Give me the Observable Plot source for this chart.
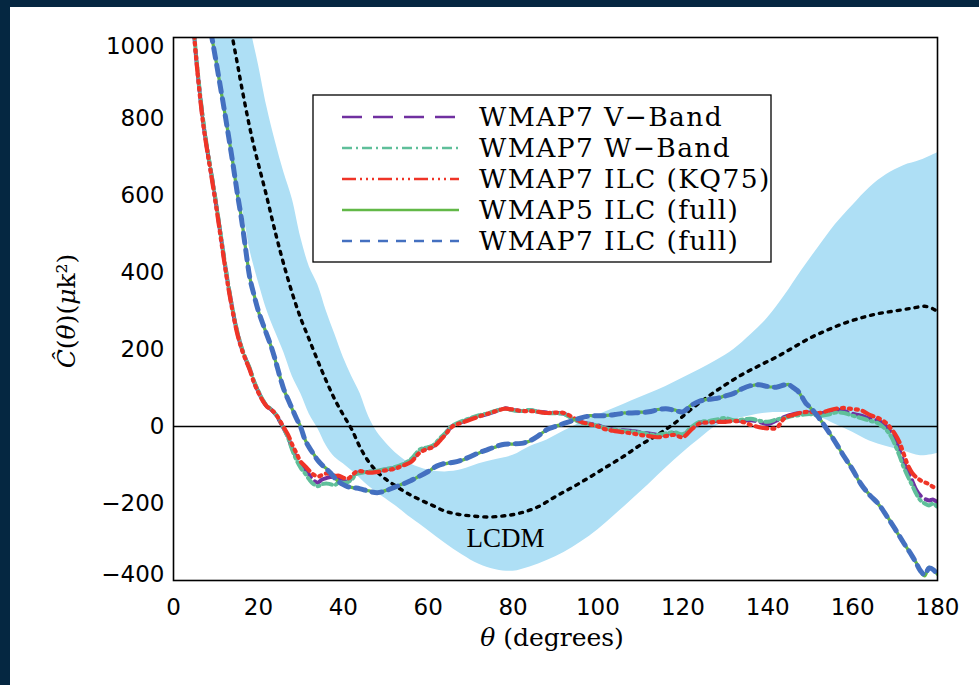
<!DOCTYPE html>
<html><head><meta charset="utf-8">
<script src="https://cdn.jsdelivr.net/npm/d3@7"></script>
<script src="https://cdn.jsdelivr.net/npm/@observablehq/plot@0.6"></script>
<style>
html,body{margin:0;padding:0;background:#fff;}
#wrap{position:relative;width:979px;height:685px;overflow:hidden;background:#fff;}
#chart{position:absolute;left:0;top:0;}
#over{position:absolute;left:0;top:0;overflow:visible;}
#barTop{position:absolute;left:0;top:0;width:979px;height:7px;background:#052741;}
#barLeft{position:absolute;left:0;top:0;width:10px;height:685px;background:#052741;}
</style></head>
<body>
<div id="wrap"><div id="chart"></div><svg id="over" width="979" height="685"></svg><div id="barTop"></div><div id="barLeft"></div></div>
<script>
// ---------- data ----------
const xTicks = [0,20,40,60,80,100,120,140,160,180];
const yTicksMid = [-200,0,200,400,600,800];
const yTickTop = [1000];
const yTickBottom = [-400];
const seriesNames = ["WMAP7 V\u2212Band","WMAP7 W\u2212Band","WMAP7 ILC (KQ75)","WMAP5 ILC (full)","WMAP7 ILC (full)"];
const bandLabel = ["LCDM"];
const bandLabelTheta = [78.2];
const bandLabelValue = [-290];

// cut-sky estimators (V, W, ILC KQ75)
const cutTheta = [4.8,5,6,7,8,9,10,11,12,13,
 14,15,16,17,18,19,20,21,22,23,
 24,25,26,27,28,29,30,31,32,33,
 34,35,36,37,38,39,40,41,42,43,
 44,46,48,50,52,54,56,57,58,59,
 60,61,62,63,64,65,66,68,70,72,
 74,76,78,80,82,84,86,88,90,92,
 94,96,98,100,102,104,106,108,110,112,
 114,116,118,120,122,124,126,128,130,132,
 134,136,138,140,142,144,146,148,150,152,
 154,156,158,160,162,164,166,168,169,170,
 171,172,173,174,175,176,177,178,179,180];
const vBand = [1040,1000,885,790,715,650,580,505,430,360,
 298,245,205,175,148,115,90,68,52,44,
 32,14,-6,-28,-58,-82,-100,-112,-126,-140,
 -146,-138,-134,-131,-136,-134,-140,-143,-134,-121,
 -119,-118,-116,-112,-108,-100,-88,-76,-63,-58,
 -55,-52,-45,-31,-20,-6,3,12,20,27,
 32,40,47,43,40,42,38,36,35,33,
 22,12,7,3,-5,-8,-10,-12,-15,-18,
 -22,-20,-17,-22,-5,10,12,15,14,15,
 15,16,12,6,15,25,32,35,36,33,
 38,44,40,33,28,20,15,0,-15,-35,
 -60,-92,-115,-140,-165,-180,-188,-192,-190,-198];
const wBand = [1045,1005,890,795,718,652,583,508,433,362,
 300,248,207,176,150,117,92,70,53,45,
 33,15,-5,-30,-62,-88,-108,-122,-138,-150,
 -155,-150,-148,-150,-152,-145,-146,-145,-138,-124,
 -121,-117,-115,-110,-106,-98,-84,-72,-60,-56,
 -54,-50,-40,-28,-18,-4,4,14,22,29,
 34,41,46,42,40,43,38,35,34,32,
 20,10,6,2,-6,-8,-12,-13,-16,-20,
 -22,-18,-15,-20,-2,12,14,18,22,16,
 18,20,15,12,18,22,27,30,32,28,
 30,36,35,28,22,15,8,-10,-25,-48,
 -75,-105,-130,-152,-175,-192,-200,-205,-200,-210];
const ilcKQ75 = [1040,1000,882,785,712,645,575,500,425,355,
 295,242,203,173,146,113,88,67,52,44,
 33,16,-3,-22,-48,-70,-92,-103,-115,-125,
 -130,-126,-122,-124,-128,-128,-133,-136,-128,-118,
 -116,-120,-118,-114,-110,-102,-92,-80,-68,-62,
 -58,-54,-46,-34,-22,-8,2,10,18,26,
 33,40,46,44,40,40,38,35,36,35,
 24,12,6,0,-8,-12,-15,-18,-22,-25,
 -28,-25,-22,-28,-8,8,10,12,12,14,
 12,4,-2,-5,-4,22,30,36,38,35,
 40,46,48,45,42,30,22,8,-5,-20,
 -40,-70,-100,-120,-132,-140,-145,-150,-157,-160];

// full-sky ILC maps
const fullTheta = [8.8,9.2,10,11,12,13,14,15,16,17,
 18,19,20,21,22,23,24,25,26,27,
 28,29,30,31,32,33,34,35,36,37,
 38,39,40,41,42,43,44,45,46,48,
 50,52,54,56,58,60,62,64,66,68,
 70,72,74,76,78,80,82,84,86,88,
 90,92,94,96,98,100,102,104,106,108,
 110,112,114,116,118,120,122,124,126,128,
 130,132,134,136,138,140,142,144,145,146,
 147,148,149,150,152,154,156,158,160,162,
 164,166,168,170,172,174,175,176,177,178,
 179,180];
const ilc7Full = [1025,1000,950,885,820,752,682,608,540,460,
 385,340,300,268,238,208,172,132,96,70,
 45,20,-3,-35,-55,-72,-88,-100,-110,-121,
 -134,-144,-151,-156,-159,-160,-162,-165,-168,-172,
 -167,-158,-150,-140,-129,-117,-103,-96,-93,-87,
 -78,-68,-60,-52,-46,-45,-44,-37,-24,-8,
 0,8,15,22,27,28,28,31,34,35,
 36,38,43,46,42,38,55,66,70,73,
 79,86,98,106,108,104,102,108,108,101,
 93,78,60,50,23,-8,-42,-78,-112,-150,
 -178,-200,-232,-266,-302,-336,-355,-375,-385,-368,
 -372,-385];
const ilc5Full = [1026,1000,951,884,819,753,683,607,541,461,
 386,341,299,267,239,207,171,133,95,71,
 44,21,-2,-34,-56,-71,-89,-101,-109,-122,
 -133,-145,-150,-157,-158,-161,-161,-166,-167,-173,
 -166,-159,-149,-141,-128,-118,-102,-97,-92,-88,
 -77,-69,-59,-53,-45,-46,-43,-38,-23,-9,
 1,7,16,21,28,27,29,30,35,34,
 37,37,44,45,43,37,56,65,71,72,
 80,85,99,105,109,103,103,107,109,100,
 94,77,61,49,24,-9,-41,-79,-111,-151,
 -177,-201,-231,-267,-301,-337,-354,-376,-388,-366,
 -373,-384];

// LCDM expectation and its band
const lcdmTheta = [13,13.9,15,16,17.7,19,20.5,22,23.3,24.5,
 26,28,30,32,34,36,38,40,42,44,
 46,48,50,52,55,58,61,64,67,70,
 74,78,82,86,90,94,98,102,106,110,
 114,118,122,126,130,134,138,142,146,150,
 154,158,162,166,170,174,177,179,180];
const lcdmVal = [1070,1010,945,885,790,725,660,595,535,482,
 420,345,280,225,170,118,70,30,-8,-55,
 -92,-118,-137,-152,-173,-190,-205,-220,-228,-232,
 -235,-232,-224,-208,-182,-158,-132,-105,-78,-48,
 -22,8,45,78,108,135,158,180,205,230,
 250,268,282,293,300,307,312,305,298];
const bandTheta = [9,10,11,12,13,14,15,16,17,18,
 19,20,22,24,26,28,30,32,34,36,
 38,40,42,44,46,48,50,53,56,60,
 64,68,72,76,80,84,88,92,96,100,
 104,108,112,116,120,124,128,132,136,140,
 144,148,152,156,160,164,168,172,176,180];
const bandLo = [1050,975,905,845,780,710,640,578,520,458,
 415,375,302,245,192,130,85,32,-5,-50,
 -80,-97,-115,-135,-155,-172,-188,-212,-238,-270,
 -303,-333,-358,-372,-376,-365,-348,-327,-300,-268,
 -230,-190,-150,-108,-68,-32,2,18,28,35,
 36,34,25,5,-15,-38,-52,-64,-76,-70];
const bandHi = [1100,1100,1100,1100,1100,1100,1100,1100,1100,1040,
 990,940,830,740,660,590,490,415,368,300,
 240,180,130,85,25,-15,-42,-75,-98,-113,
 -118,-112,-97,-86,-75,-52,-35,-12,10,30,
 48,67,85,104,126,148,172,200,238,282,
 340,405,466,525,574,620,654,677,691,711];

// ---------- styles ----------
const styleV = {stroke:"#7030a0", strokeWidth:4, strokeDasharray:"18,6"};
const styleW = {stroke:"#5fbf9a", strokeWidth:4, strokeDasharray:"9,4,2,4"};
const styleK = {stroke:"#ef3427", strokeWidth:4.2, strokeDasharray:"12,5,2,5,2,5,2,5"};
const style5 = {stroke:"#62b847", strokeWidth:3.2};
const style7 = {stroke:"#4470c0", strokeWidth:5, strokeDasharray:"10,7"};
const legendStyles = [
  {stroke:"#7030a0", dash:"20,11"},
  {stroke:"#5fbf9a", dash:"10,4,2,4"},
  {stroke:"#ef3427", dash:"14,4,2,4,2,4,2,4"},
  {stroke:"#62b847", dash:null},
  {stroke:"#4470c0", dash:"10,8"}
];

// ---------- tables ----------
const cut = cutTheta.map((t,i)=>({t, v:vBand[i], w:wBand[i], k:ilcKQ75[i]}));
const full = fullTheta.map((t,i)=>({t, a:ilc5Full[i], b:ilc7Full[i]}));
const lcdm = lcdmTheta.map((t,i)=>({t, v:lcdmVal[i]}));
const band = bandTheta.map((t,i)=>({t, lo:bandLo[i], hi:bandHi[i]}));
const labels = bandLabel.map((s,i)=>({t:bandLabelTheta[i], v:bandLabelValue[i], s}));
const fmt = d => d < 0 ? "\u2212" + Math.abs(d) : String(d);
const curve = "catmull-rom";

const chart = Plot.plot({
  width: 979, height: 685,
  marginLeft: 173, marginRight: 42, marginTop: 37, marginBottom: 105,
  x: {domain: [0, 180]},
  y: {domain: [-400, 1010]},
  style: {fontFamily: "DejaVu Sans", fontSize: "23px", background: "transparent", color: "black"},
  marks: [
    Plot.areaY(band, {x: "t", y1: "lo", y2: "hi", fill: "#aedff5", curve, clip: true}),
    Plot.line(lcdm, {x: "t", y: "v", stroke: "black", strokeWidth: 3.4, strokeDasharray: "3,6", curve, clip: true}),
    Plot.ruleY([0], {stroke: "black", strokeWidth: 1.6}),
    Plot.line(cut, {x: "t", y: "v", ...styleV, curve, clip: true}),
    Plot.line(cut, {x: "t", y: "w", ...styleW, curve, clip: true}),
    Plot.line(cut, {x: "t", y: "k", ...styleK, curve, clip: true}),
    Plot.line(full, {x: "t", y: "a", ...style5, curve, clip: true}),
    Plot.line(full, {x: "t", y: "b", ...style7, curve, clip: true}),
    Plot.text(labels, {x: "t", y: "v", text: "s", fontFamily: "Liberation Serif", fontSize: 27, fill: "black"}),
    Plot.frame({stroke: "black", strokeWidth: 1.6}),
    Plot.axisX(xTicks, {tickSize: 0, tickPadding: 18, label: null, tickFormat: fmt}),
    Plot.axisY(yTicksMid, {tickSize: 0, tickPadding: 9, label: null, tickFormat: fmt}),
    Plot.axisY(yTickTop, {tickSize: 0, tickPadding: 9, label: null, tickFormat: fmt, dy: 5}),
    Plot.axisY(yTickBottom, {tickSize: 0, tickPadding: 9, label: null, tickFormat: fmt, dy: -6})
  ]
});
document.getElementById("chart").appendChild(chart);

// ---------- legend and axis titles ----------
const over = d3.select("#over");
const lg = over.append("g").attr("transform", "translate(313,95)");
lg.append("rect").attr("x", 0).attr("y", 0).attr("width", 458).attr("height", 167)
  .attr("fill", "white").attr("stroke", "black").attr("stroke-width", 1.3);
seriesNames.forEach((name, i) => {
  const y = 22 + i * 31;
  const ln = lg.append("line").attr("x1", 29).attr("x2", 146).attr("y1", y).attr("y2", y)
    .attr("stroke", legendStyles[i].stroke).attr("stroke-width", 2.6);
  if (legendStyles[i].dash) ln.attr("stroke-dasharray", legendStyles[i].dash);
  lg.append("text").attr("x", 166).attr("y", y + 9).text(name)
    .attr("font-family", "DejaVu Serif").attr("font-size", 26.5)
    .attr("letter-spacing", 1.4).attr("fill", "black");
});
const xt = over.append("text").attr("x", 552).attr("y", 646).attr("text-anchor", "middle")
  .attr("font-family", "DejaVu Serif").attr("font-size", 25).attr("fill", "black");
xt.append("tspan").attr("font-style", "italic").text("\u03b8");
xt.append("tspan").text(" (degrees)");
const yt = over.append("text").attr("transform", "translate(75,311) rotate(-90)").attr("text-anchor", "middle")
  .attr("font-family", "DejaVu Serif").attr("font-size", 25).attr("fill", "black");
yt.append("tspan").attr("font-style", "italic").text("\u0108");
yt.append("tspan").text("(");
yt.append("tspan").attr("font-style", "italic").text("\u03b8");
yt.append("tspan").text(")(");
yt.append("tspan").attr("font-style", "italic").text("\u03bc");
yt.append("tspan").text("k\u00b2)");
</script>
</body></html>
